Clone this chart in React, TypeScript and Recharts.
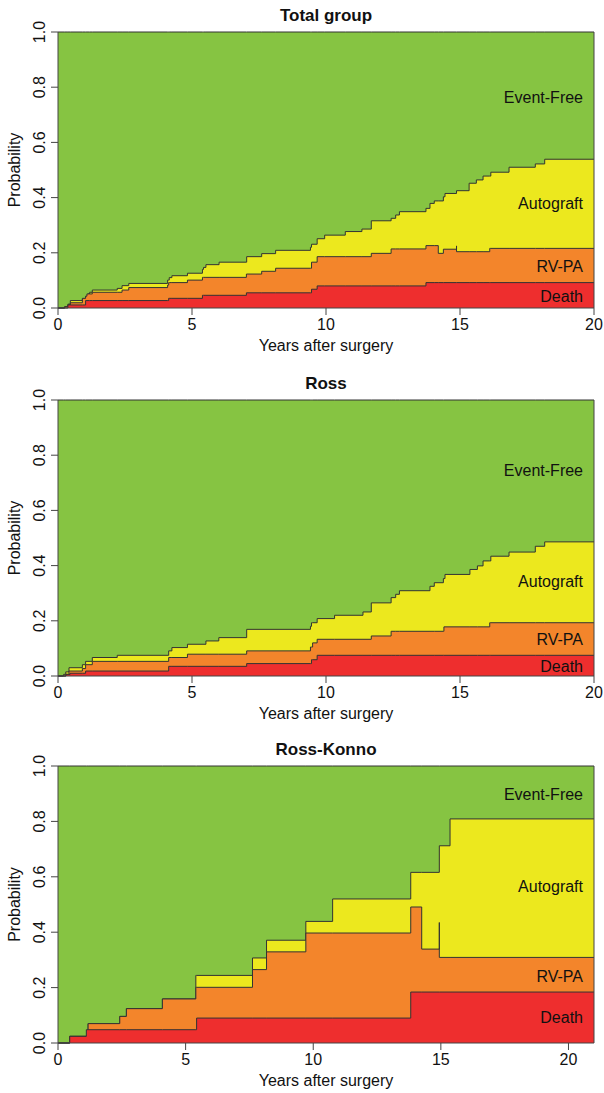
import React from "react";
import { AreaChart, Area, XAxis, YAxis, ReferenceDot, ReferenceLine, Label } from "recharts";

type Step = [number, number];

const xTicks = [0, 5, 10, 15, 20];
const yTicks = [0, 0.2, 0.4, 0.6, 0.8, 1];
const bandNames = ["Event-Free", "Autograft", "RV-PA", "Death"];

// cumulative probability, top edge of each band: [years, value after that time]
const eventFree: Step[] = [[0, 1]];

const totalAutograft: Step[] = [
  [0, 0], [0.25, 0.005], [0.37, 0.014], [0.46, 0.027], [0.91, 0.033], [1.03, 0.041], [1.12, 0.051],
  [1.18, 0.057], [1.28, 0.065], [2.21, 0.071], [2.39, 0.081], [2.64, 0.089], [4.09, 0.101], [4.15, 0.11],
  [4.25, 0.117], [4.83, 0.126], [5.39, 0.14], [5.43, 0.147], [5.52, 0.157], [6.01, 0.166], [7.04, 0.186],
  [7.6, 0.197], [8.12, 0.209], [9.42, 0.22], [9.46, 0.231], [9.67, 0.251], [9.95, 0.264], [10.72, 0.277],
  [11.34, 0.286], [11.69, 0.316], [12.43, 0.325], [12.6, 0.337], [12.74, 0.349], [13.73, 0.361],
  [13.88, 0.379], [14.04, 0.388], [14.38, 0.403], [14.44, 0.415], [14.87, 0.425], [15.34, 0.452],
  [15.61, 0.464], [15.86, 0.478], [16.15, 0.492], [16.83, 0.51], [17.81, 0.522], [18.16, 0.539],
];
const totalRvpa: Step[] = [
  [0, 0], [0.25, 0.005], [0.37, 0.011], [0.46, 0.019], [0.91, 0.035], [1.03, 0.043], [1.08, 0.051],
  [1.28, 0.057], [2.39, 0.065], [2.64, 0.074], [4.09, 0.083], [4.13, 0.092], [4.83, 0.101], [5.39, 0.111],
  [7.03, 0.123], [7.6, 0.133], [8.12, 0.144], [9.46, 0.166], [9.67, 0.186], [11.69, 0.198], [12.43, 0.214],
  [13.73, 0.226], [14.19, 0.198], [14.38, 0.213], [14.87, 0.225], [14.87, 0.204], [16.11, 0.216],
];
const totalDeath: Step[] = [
  [0, 0], [0.37, 0.011], [1.03, 0.027], [4.13, 0.035], [5.39, 0.046], [7.03, 0.055], [9.46, 0.068],
  [9.67, 0.08], [13.73, 0.092],
];

const rossAutograft: Step[] = [
  [0, 0], [0.21, 0.006], [0.29, 0.015], [0.41, 0.03], [0.91, 0.041], [1.03, 0.053], [1.28, 0.067],
  [2.21, 0.075], [4.13, 0.091], [4.25, 0.103], [4.83, 0.115], [5.52, 0.127], [6.0, 0.139], [7.04, 0.169],
  [9.42, 0.18], [9.46, 0.193], [9.67, 0.208], [10.32, 0.22], [11.38, 0.232], [11.69, 0.265], [12.43, 0.284],
  [12.6, 0.296], [12.74, 0.309], [13.88, 0.325], [14.04, 0.338], [14.38, 0.353], [14.44, 0.368],
  [15.37, 0.386], [15.65, 0.399], [15.86, 0.417], [16.15, 0.434], [16.83, 0.449], [17.81, 0.47], [18.16, 0.486],
];
const rossRvpa: Step[] = [
  [0, 0], [0.29, 0.006], [0.41, 0.018], [0.91, 0.027], [1.03, 0.041], [1.28, 0.053], [4.13, 0.067],
  [4.83, 0.079], [7.04, 0.091], [9.42, 0.105], [9.5, 0.12], [9.67, 0.133], [11.69, 0.145], [12.43, 0.162],
  [14.4, 0.178], [16.11, 0.193],
];
const rossDeath: Step[] = [
  [0, 0], [0.3, 0.006], [0.45, 0.01], [1.03, 0.018], [4.13, 0.035], [7.04, 0.045], [9.46, 0.059], [9.67, 0.075],
];

const konnoAutograft: Step[] = [
  [0, 0], [0.46, 0.024], [1.18, 0.07], [2.42, 0.096], [2.68, 0.124], [4.09, 0.159], [5.4, 0.244],
  [7.62, 0.307], [8.17, 0.371], [9.71, 0.439], [10.76, 0.52], [13.82, 0.616], [14.94, 0.712], [15.36, 0.809],
];
const konnoRvpa: Step[] = [
  [0, 0], [0.46, 0.024], [1.18, 0.07], [2.42, 0.096], [2.68, 0.124], [4.09, 0.159], [5.4, 0.201],
  [7.62, 0.265], [8.17, 0.329], [9.71, 0.397], [13.82, 0.491], [14.25, 0.339], [14.94, 0.435], [14.94, 0.309],
];
const konnoDeath: Step[] = [
  [0, 0], [0.46, 0.024], [1.11, 0.048], [5.43, 0.09], [13.82, 0.184],
];

const colors = ["#86c442", "#ece81e", "#f3852b", "#ee2e2e"];
const font = "'Liberation Sans', Arial, sans-serif";

function buildRows(bands: Step[][], xMax: number) {
  const cur: Record<string, number> = {};
  bands.forEach((b, i) => (cur["b" + i] = b[0][1]));
  const events: { t: number; k: string; v: number }[] = [];
  bands.forEach((b, i) => b.slice(1).forEach(([t, v]) => events.push({ t, k: "b" + i, v })));
  events.sort((a, b) => a.t - b.t);
  const rows: Record<string, number>[] = [{ t: 0, ...cur }];
  events.forEach((e) => {
    cur[e.k] = e.v;
    rows.push({ t: e.t, ...cur });
  });
  rows.push({ t: xMax, ...cur });
  return rows;
}

type PanelProps = {
  title: string;
  top: number;
  plotH: number;
  xMax: number;
  bands: Step[][];
  labelX: number;
  labelY: number[];
};

function Panel({ title, top, plotH, xMax, bands, labelX, labelY }: PanelProps) {
  const rows = buildRows(bands, xMax);
  const height = 32 + plotH + 58;
  return (
    <div style={{ position: "absolute", left: 0, top, width: 604, height }}>
      <AreaChart width={604} height={height} data={rows} margin={{ top: 32, right: 10, bottom: 0, left: 0 }}>
        <XAxis
          type="number"
          dataKey="t"
          domain={[0, xMax]}
          ticks={xTicks}
          height={58}
          tickSize={7}
          tickMargin={0}
          stroke="#444"
          tick={(p: any) => (
            <text x={p.x} y={p.y} dy={15} textAnchor="middle" fontSize={16} fill="#111">
              {p.payload.value}
            </text>
          )}
        >
          <Label
            content={(p: any) => (
              <text x={p.viewBox.x + p.viewBox.width / 2} y={p.viewBox.y + 42.5} textAnchor="middle" fontSize={16} fill="#111">
                Years after surgery
              </text>
            )}
          />
        </XAxis>
        <YAxis
          type="number"
          domain={[0, 1]}
          ticks={yTicks}
          width={58}
          tickSize={7}
          tickMargin={0}
          stroke="#444"
          tick={(p: any) => (
            <text
              x={p.x - 6}
              y={p.y}
              transform={`rotate(-90 ${p.x - 6} ${p.y})`}
              textAnchor="middle"
              fontSize={16}
              fill="#111"
            >
              {Number(p.payload.value).toFixed(1)}
            </text>
          )}
        >
          <Label
            content={(p: any) => {
              const cy = p.viewBox.y + p.viewBox.height / 2;
              return (
                <text x={20} y={cy} transform={`rotate(-90 20 ${cy})`} textAnchor="middle" fontSize={16} fill="#111">
                  Probability
                </text>
              );
            }}
          />
        </YAxis>
        {bands.map((_, i) => (
          <Area
            key={i}
            type="stepAfter"
            dataKey={"b" + i}
            fill={colors[i]}
            fillOpacity={1}
            stroke="#333"
            strokeWidth={1}
            dot={false}
            activeDot={false}
            isAnimationActive={false}
          />
        ))}
        <ReferenceLine x={xMax} stroke="#444" />
        {bandNames.map((name, i) => (
          <ReferenceDot
            key={name}
            x={labelX}
            y={labelY[i]}
            r={1}
            fill="none"
            stroke="none"
            label={(p: any) => (
              <text
                x={p.viewBox.x + p.viewBox.width / 2}
                y={p.viewBox.y + p.viewBox.height / 2}
                textAnchor="end"
                dominantBaseline="central"
                fontSize={16}
                fill="#111"
              >
                {name}
              </text>
            )}
          />
        ))}
      </AreaChart>
      <div
        style={{
          position: "absolute",
          left: 58,
          top: 6,
          width: 536,
          textAlign: "center",
          fontWeight: "bold",
          fontSize: 17,
          lineHeight: "20px",
          color: "#111",
        }}
      >
        {title}
      </div>
    </div>
  );
}

export default function App() {
  return (
    <div style={{ position: "absolute", left: 0, top: 0, width: 604, height: 1093, background: "#fff", fontFamily: font }}>
      <Panel
        title="Total group"
        top={0}
        plotH={276}
        xMax={20}
        bands={[eventFree, totalAutograft, totalRvpa, totalDeath]}
        labelX={19.59}
        labelY={[0.764, 0.38, 0.149, 0.04]}
      />
      <Panel
        title="Ross"
        top={368}
        plotH={276}
        xMax={20}
        bands={[eventFree, rossAutograft, rossRvpa, rossDeath]}
        labelX={19.59}
        labelY={[0.745, 0.343, 0.133, 0.035]}
      />
      <Panel
        title="Ross-Konno"
        top={734}
        plotH={277}
        xMax={21}
        bands={[eventFree, konnoAutograft, konnoRvpa, konnoDeath]}
        labelX={20.57}
        labelY={[0.896, 0.564, 0.239, 0.091]}
      />
    </div>
  );
}
